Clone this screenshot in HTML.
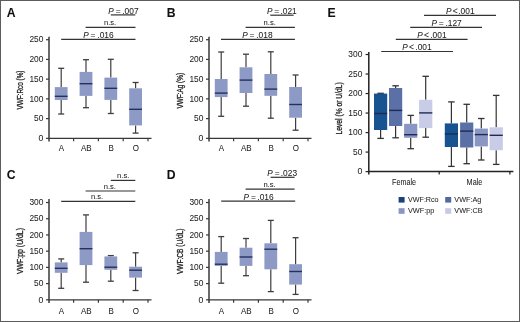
<!DOCTYPE html>
<html><head><meta charset="utf-8"><style>
html,body{margin:0;padding:0;background:#fff;}
body{width:520px;height:322px;overflow:hidden;}
.f{position:relative;width:520px;height:322px;box-sizing:border-box;border:1px solid #5c5c5c;background:#fff;}
svg{position:absolute;left:-1px;top:-1px;will-change:transform;font-family:"Liberation Sans", sans-serif;}
</style></head><body><div class="f">
<svg width="520" height="322" viewBox="0 0 520 322">
<text x="6.8" y="16.8" font-size="12.2" text-anchor="start" font-weight="bold" fill="#111" stroke="#111" stroke-width="0.05">A</text>
<line x1="49" y1="36.8" x2="49" y2="141.6" stroke="#383838" stroke-width="1.5"/>
<line x1="46" y1="138.35" x2="49" y2="138.35" stroke="#383838" stroke-width="1.2"/>
<text x="43.4" y="141.05" font-size="8.7" text-anchor="end" font-weight="normal" fill="#222" stroke="#222" stroke-width="0.05">0</text>
<line x1="46" y1="118.62" x2="49" y2="118.62" stroke="#383838" stroke-width="1.2"/>
<text x="43.4" y="121.32" font-size="8.7" text-anchor="end" font-weight="normal" fill="#222" stroke="#222" stroke-width="0.05" textLength="9.3" lengthAdjust="spacingAndGlyphs">50</text>
<line x1="46" y1="98.89" x2="49" y2="98.89" stroke="#383838" stroke-width="1.2"/>
<text x="43.4" y="101.59" font-size="8.7" text-anchor="end" font-weight="normal" fill="#222" stroke="#222" stroke-width="0.05" textLength="13.95" lengthAdjust="spacingAndGlyphs">100</text>
<line x1="46" y1="79.16" x2="49" y2="79.16" stroke="#383838" stroke-width="1.2"/>
<text x="43.4" y="81.86" font-size="8.7" text-anchor="end" font-weight="normal" fill="#222" stroke="#222" stroke-width="0.05" textLength="13.95" lengthAdjust="spacingAndGlyphs">150</text>
<line x1="46" y1="59.43" x2="49" y2="59.43" stroke="#383838" stroke-width="1.2"/>
<text x="43.4" y="62.13" font-size="8.7" text-anchor="end" font-weight="normal" fill="#222" stroke="#222" stroke-width="0.05" textLength="13.95" lengthAdjust="spacingAndGlyphs">200</text>
<line x1="46" y1="39.7" x2="49" y2="39.7" stroke="#383838" stroke-width="1.2"/>
<text x="43.4" y="42.4" font-size="8.7" text-anchor="end" font-weight="normal" fill="#222" stroke="#222" stroke-width="0.05" textLength="13.95" lengthAdjust="spacingAndGlyphs">250</text>
<line x1="49" y1="138.35" x2="151.5" y2="138.35" stroke="#383838" stroke-width="1.3"/>
<line x1="73.6" y1="138.35" x2="73.6" y2="141.35" stroke="#383838" stroke-width="1.2"/>
<line x1="98.4" y1="138.35" x2="98.4" y2="141.35" stroke="#383838" stroke-width="1.2"/>
<line x1="123.2" y1="138.35" x2="123.2" y2="141.35" stroke="#383838" stroke-width="1.2"/>
<line x1="148" y1="138.35" x2="148" y2="141.35" stroke="#383838" stroke-width="1.2"/>
<text x="61.5" y="151.4" font-size="8.6" text-anchor="middle" font-weight="normal" fill="#222" stroke="#222" stroke-width="0.05" textLength="5.33" lengthAdjust="spacingAndGlyphs">A</text>
<text x="86.3" y="151.4" font-size="8.6" text-anchor="middle" font-weight="normal" fill="#222" stroke="#222" stroke-width="0.05" textLength="10.67" lengthAdjust="spacingAndGlyphs">AB</text>
<text x="111.1" y="151.4" font-size="8.6" text-anchor="middle" font-weight="normal" fill="#222" stroke="#222" stroke-width="0.05" textLength="5.33" lengthAdjust="spacingAndGlyphs">B</text>
<text x="135.9" y="151.4" font-size="8.6" text-anchor="middle" font-weight="normal" fill="#222" stroke="#222" stroke-width="0.05" textLength="6.22" lengthAdjust="spacingAndGlyphs">O</text>
<line x1="61.2" y1="68.3" x2="61.2" y2="87.1" stroke="#3e3e3e" stroke-width="1.2"/>
<line x1="61.2" y1="100.0" x2="61.2" y2="114.0" stroke="#3e3e3e" stroke-width="1.2"/>
<line x1="58.2" y1="68.3" x2="64.2" y2="68.3" stroke="#3e3e3e" stroke-width="1.3"/>
<line x1="58.2" y1="114.0" x2="64.2" y2="114.0" stroke="#3e3e3e" stroke-width="1.3"/>
<rect x="54.8" y="87.1" width="12.8" height="12.9" fill="#8e9ac6"/>
<line x1="54.8" y1="96.3" x2="67.6" y2="96.3" stroke="#26305e" stroke-width="1.4"/>
<line x1="86" y1="59.7" x2="86" y2="71.9" stroke="#3e3e3e" stroke-width="1.2"/>
<line x1="86" y1="95.9" x2="86" y2="107.7" stroke="#3e3e3e" stroke-width="1.2"/>
<line x1="83.0" y1="59.7" x2="89.0" y2="59.7" stroke="#3e3e3e" stroke-width="1.3"/>
<line x1="83.0" y1="107.7" x2="89.0" y2="107.7" stroke="#3e3e3e" stroke-width="1.3"/>
<rect x="79.6" y="71.9" width="12.8" height="24.0" fill="#8e9ac6"/>
<line x1="79.6" y1="83.7" x2="92.4" y2="83.7" stroke="#26305e" stroke-width="1.4"/>
<line x1="110.8" y1="59.3" x2="110.8" y2="77.6" stroke="#3e3e3e" stroke-width="1.2"/>
<line x1="110.8" y1="99.9" x2="110.8" y2="113.5" stroke="#3e3e3e" stroke-width="1.2"/>
<line x1="107.8" y1="59.3" x2="113.8" y2="59.3" stroke="#3e3e3e" stroke-width="1.3"/>
<line x1="107.8" y1="113.5" x2="113.8" y2="113.5" stroke="#3e3e3e" stroke-width="1.3"/>
<rect x="104.4" y="77.6" width="12.8" height="22.3" fill="#8e9ac6"/>
<line x1="104.4" y1="88.3" x2="117.2" y2="88.3" stroke="#26305e" stroke-width="1.4"/>
<line x1="135.6" y1="82.5" x2="135.6" y2="88.3" stroke="#3e3e3e" stroke-width="1.2"/>
<line x1="135.6" y1="125.4" x2="135.6" y2="133.1" stroke="#3e3e3e" stroke-width="1.2"/>
<line x1="132.6" y1="82.5" x2="138.6" y2="82.5" stroke="#3e3e3e" stroke-width="1.3"/>
<line x1="132.6" y1="133.1" x2="138.6" y2="133.1" stroke="#3e3e3e" stroke-width="1.3"/>
<rect x="129.2" y="88.3" width="12.8" height="37.1" fill="#8e9ac6"/>
<line x1="129.2" y1="109.3" x2="142.0" y2="109.3" stroke="#26305e" stroke-width="1.4"/>
<line x1="110.8" y1="14.9" x2="135.3" y2="14.9" stroke="#333" stroke-width="1.2"/>
<text x="108.30" y="13.8" font-size="8.2" font-style="italic" fill="#222" stroke="#222" stroke-width="0.05">P</text>
<text x="115.70" y="13.8" font-size="8.4" fill="#222" stroke="#222" stroke-width="0.05">=</text>
<text x="122.24" y="13.8" font-size="8.4" fill="#222" stroke="#222" stroke-width="0.05">.007</text>
<line x1="85.6" y1="27.4" x2="135.5" y2="27.4" stroke="#333" stroke-width="1.2"/>
<text x="110.1" y="25.4" font-size="7.6" text-anchor="middle" font-weight="normal" fill="#222" stroke="#222" stroke-width="0.05">n.s.</text>
<line x1="61.2" y1="39.4" x2="135.5" y2="39.4" stroke="#333" stroke-width="1.2"/>
<text x="83.20" y="37.5" font-size="8.2" font-style="italic" fill="#222" stroke="#222" stroke-width="0.05">P</text>
<text x="90.60" y="37.5" font-size="8.4" fill="#222" stroke="#222" stroke-width="0.05">=</text>
<text x="97.34" y="37.5" font-size="8.4" fill="#222" stroke="#222" stroke-width="0.05">.016</text>
<text x="0" y="0" font-size="8.9" font-weight="normal" text-anchor="middle" fill="#222" stroke="#222" stroke-width="0.3" textLength="39" lengthAdjust="spacingAndGlyphs" transform="translate(22.7,90) rotate(-90)">VWF:Rco (%)</text>
<text x="166.8" y="16.8" font-size="12.2" text-anchor="start" font-weight="bold" fill="#111" stroke="#111" stroke-width="0.05">B</text>
<line x1="209" y1="36.8" x2="209" y2="141.6" stroke="#383838" stroke-width="1.5"/>
<line x1="206" y1="138.35" x2="209" y2="138.35" stroke="#383838" stroke-width="1.2"/>
<text x="203.4" y="141.05" font-size="8.7" text-anchor="end" font-weight="normal" fill="#222" stroke="#222" stroke-width="0.05">0</text>
<line x1="206" y1="118.62" x2="209" y2="118.62" stroke="#383838" stroke-width="1.2"/>
<text x="203.4" y="121.32" font-size="8.7" text-anchor="end" font-weight="normal" fill="#222" stroke="#222" stroke-width="0.05" textLength="9.3" lengthAdjust="spacingAndGlyphs">50</text>
<line x1="206" y1="98.89" x2="209" y2="98.89" stroke="#383838" stroke-width="1.2"/>
<text x="203.4" y="101.59" font-size="8.7" text-anchor="end" font-weight="normal" fill="#222" stroke="#222" stroke-width="0.05" textLength="13.95" lengthAdjust="spacingAndGlyphs">100</text>
<line x1="206" y1="79.16" x2="209" y2="79.16" stroke="#383838" stroke-width="1.2"/>
<text x="203.4" y="81.86" font-size="8.7" text-anchor="end" font-weight="normal" fill="#222" stroke="#222" stroke-width="0.05" textLength="13.95" lengthAdjust="spacingAndGlyphs">150</text>
<line x1="206" y1="59.43" x2="209" y2="59.43" stroke="#383838" stroke-width="1.2"/>
<text x="203.4" y="62.13" font-size="8.7" text-anchor="end" font-weight="normal" fill="#222" stroke="#222" stroke-width="0.05" textLength="13.95" lengthAdjust="spacingAndGlyphs">200</text>
<line x1="206" y1="39.7" x2="209" y2="39.7" stroke="#383838" stroke-width="1.2"/>
<text x="203.4" y="42.4" font-size="8.7" text-anchor="end" font-weight="normal" fill="#222" stroke="#222" stroke-width="0.05" textLength="13.95" lengthAdjust="spacingAndGlyphs">250</text>
<line x1="209" y1="138.35" x2="311.5" y2="138.35" stroke="#383838" stroke-width="1.3"/>
<line x1="233.6" y1="138.35" x2="233.6" y2="141.35" stroke="#383838" stroke-width="1.2"/>
<line x1="258.4" y1="138.35" x2="258.4" y2="141.35" stroke="#383838" stroke-width="1.2"/>
<line x1="283.2" y1="138.35" x2="283.2" y2="141.35" stroke="#383838" stroke-width="1.2"/>
<line x1="308" y1="138.35" x2="308" y2="141.35" stroke="#383838" stroke-width="1.2"/>
<text x="221.5" y="151.4" font-size="8.6" text-anchor="middle" font-weight="normal" fill="#222" stroke="#222" stroke-width="0.05" textLength="5.33" lengthAdjust="spacingAndGlyphs">A</text>
<text x="246.3" y="151.4" font-size="8.6" text-anchor="middle" font-weight="normal" fill="#222" stroke="#222" stroke-width="0.05" textLength="10.67" lengthAdjust="spacingAndGlyphs">AB</text>
<text x="271.1" y="151.4" font-size="8.6" text-anchor="middle" font-weight="normal" fill="#222" stroke="#222" stroke-width="0.05" textLength="5.33" lengthAdjust="spacingAndGlyphs">B</text>
<text x="295.9" y="151.4" font-size="8.6" text-anchor="middle" font-weight="normal" fill="#222" stroke="#222" stroke-width="0.05" textLength="6.22" lengthAdjust="spacingAndGlyphs">O</text>
<line x1="221.2" y1="52.0" x2="221.2" y2="79.0" stroke="#3e3e3e" stroke-width="1.2"/>
<line x1="221.2" y1="97.1" x2="221.2" y2="116.3" stroke="#3e3e3e" stroke-width="1.2"/>
<line x1="218.2" y1="52.0" x2="224.2" y2="52.0" stroke="#3e3e3e" stroke-width="1.3"/>
<line x1="218.2" y1="116.3" x2="224.2" y2="116.3" stroke="#3e3e3e" stroke-width="1.3"/>
<rect x="214.8" y="79.0" width="12.8" height="18.1" fill="#8e9ac6"/>
<line x1="214.8" y1="93.1" x2="227.6" y2="93.1" stroke="#26305e" stroke-width="1.4"/>
<line x1="246" y1="54.2" x2="246" y2="67.3" stroke="#3e3e3e" stroke-width="1.2"/>
<line x1="246" y1="93.0" x2="246" y2="106.2" stroke="#3e3e3e" stroke-width="1.2"/>
<line x1="243.0" y1="54.2" x2="249.0" y2="54.2" stroke="#3e3e3e" stroke-width="1.3"/>
<line x1="243.0" y1="106.2" x2="249.0" y2="106.2" stroke="#3e3e3e" stroke-width="1.3"/>
<rect x="239.6" y="67.3" width="12.8" height="25.7" fill="#8e9ac6"/>
<line x1="239.6" y1="80.1" x2="252.4" y2="80.1" stroke="#26305e" stroke-width="1.4"/>
<line x1="270.8" y1="51.8" x2="270.8" y2="74.0" stroke="#3e3e3e" stroke-width="1.2"/>
<line x1="270.8" y1="95.8" x2="270.8" y2="118.2" stroke="#3e3e3e" stroke-width="1.2"/>
<line x1="267.8" y1="51.8" x2="273.8" y2="51.8" stroke="#3e3e3e" stroke-width="1.3"/>
<line x1="267.8" y1="118.2" x2="273.8" y2="118.2" stroke="#3e3e3e" stroke-width="1.3"/>
<rect x="264.4" y="74.0" width="12.8" height="21.8" fill="#8e9ac6"/>
<line x1="264.4" y1="89.1" x2="277.2" y2="89.1" stroke="#26305e" stroke-width="1.4"/>
<line x1="295.6" y1="75.0" x2="295.6" y2="87.0" stroke="#3e3e3e" stroke-width="1.2"/>
<line x1="295.6" y1="117.7" x2="295.6" y2="130.2" stroke="#3e3e3e" stroke-width="1.2"/>
<line x1="292.6" y1="75.0" x2="298.6" y2="75.0" stroke="#3e3e3e" stroke-width="1.3"/>
<line x1="292.6" y1="130.2" x2="298.6" y2="130.2" stroke="#3e3e3e" stroke-width="1.3"/>
<rect x="289.2" y="87.0" width="12.8" height="30.7" fill="#8e9ac6"/>
<line x1="289.2" y1="104.5" x2="302.0" y2="104.5" stroke="#26305e" stroke-width="1.4"/>
<line x1="270.3" y1="15.2" x2="293.6" y2="15.2" stroke="#333" stroke-width="1.2"/>
<text x="266.90" y="13.8" font-size="8.2" font-style="italic" fill="#222" stroke="#222" stroke-width="0.05">P</text>
<text x="274.30" y="13.8" font-size="8.4" fill="#222" stroke="#222" stroke-width="0.05">=</text>
<text x="280.44" y="13.8" font-size="8.4" fill="#222" stroke="#222" stroke-width="0.05">.021</text>
<line x1="245.6" y1="27.3" x2="294.9" y2="27.3" stroke="#333" stroke-width="1.2"/>
<text x="269.7" y="25.2" font-size="7.6" text-anchor="middle" font-weight="normal" fill="#222" stroke="#222" stroke-width="0.05">n.s.</text>
<line x1="221.0" y1="39.4" x2="294.9" y2="39.4" stroke="#333" stroke-width="1.2"/>
<text x="242.20" y="37.6" font-size="8.2" font-style="italic" fill="#222" stroke="#222" stroke-width="0.05">P</text>
<text x="249.60" y="37.6" font-size="8.4" fill="#222" stroke="#222" stroke-width="0.05">=</text>
<text x="256.24" y="37.6" font-size="8.4" fill="#222" stroke="#222" stroke-width="0.05">.018</text>
<text x="0" y="0" font-size="8.9" font-weight="normal" text-anchor="middle" fill="#222" stroke="#222" stroke-width="0.3" textLength="35.4" lengthAdjust="spacingAndGlyphs" transform="translate(182.7,90.7) rotate(-90)">VWF:Ag (%)</text>
<text x="6.8" y="179.0" font-size="12.2" text-anchor="start" font-weight="bold" fill="#111" stroke="#111" stroke-width="0.05">C</text>
<line x1="49" y1="199.0" x2="49" y2="303.0" stroke="#383838" stroke-width="1.5"/>
<line x1="46" y1="299.8" x2="49" y2="299.8" stroke="#383838" stroke-width="1.2"/>
<text x="43.4" y="302.5" font-size="8.7" text-anchor="end" font-weight="normal" fill="#222" stroke="#222" stroke-width="0.05">0</text>
<line x1="46" y1="283.59" x2="49" y2="283.59" stroke="#383838" stroke-width="1.2"/>
<text x="43.4" y="286.29" font-size="8.7" text-anchor="end" font-weight="normal" fill="#222" stroke="#222" stroke-width="0.05" textLength="9.3" lengthAdjust="spacingAndGlyphs">50</text>
<line x1="46" y1="267.37" x2="49" y2="267.37" stroke="#383838" stroke-width="1.2"/>
<text x="43.4" y="270.07" font-size="8.7" text-anchor="end" font-weight="normal" fill="#222" stroke="#222" stroke-width="0.05" textLength="13.95" lengthAdjust="spacingAndGlyphs">100</text>
<line x1="46" y1="251.16" x2="49" y2="251.16" stroke="#383838" stroke-width="1.2"/>
<text x="43.4" y="253.86" font-size="8.7" text-anchor="end" font-weight="normal" fill="#222" stroke="#222" stroke-width="0.05" textLength="13.95" lengthAdjust="spacingAndGlyphs">150</text>
<line x1="46" y1="234.94" x2="49" y2="234.94" stroke="#383838" stroke-width="1.2"/>
<text x="43.4" y="237.64" font-size="8.7" text-anchor="end" font-weight="normal" fill="#222" stroke="#222" stroke-width="0.05" textLength="13.95" lengthAdjust="spacingAndGlyphs">200</text>
<line x1="46" y1="218.73" x2="49" y2="218.73" stroke="#383838" stroke-width="1.2"/>
<text x="43.4" y="221.43" font-size="8.7" text-anchor="end" font-weight="normal" fill="#222" stroke="#222" stroke-width="0.05" textLength="13.95" lengthAdjust="spacingAndGlyphs">250</text>
<line x1="46" y1="202.51" x2="49" y2="202.51" stroke="#383838" stroke-width="1.2"/>
<text x="43.4" y="205.21" font-size="8.7" text-anchor="end" font-weight="normal" fill="#222" stroke="#222" stroke-width="0.05" textLength="13.95" lengthAdjust="spacingAndGlyphs">300</text>
<line x1="49" y1="299.8" x2="151.5" y2="299.8" stroke="#383838" stroke-width="1.3"/>
<line x1="73.6" y1="299.8" x2="73.6" y2="302.8" stroke="#383838" stroke-width="1.2"/>
<line x1="98.4" y1="299.8" x2="98.4" y2="302.8" stroke="#383838" stroke-width="1.2"/>
<line x1="123.2" y1="299.8" x2="123.2" y2="302.8" stroke="#383838" stroke-width="1.2"/>
<line x1="148" y1="299.8" x2="148" y2="302.8" stroke="#383838" stroke-width="1.2"/>
<text x="61.5" y="313.7" font-size="8.6" text-anchor="middle" font-weight="normal" fill="#222" stroke="#222" stroke-width="0.05" textLength="5.33" lengthAdjust="spacingAndGlyphs">A</text>
<text x="86.3" y="313.7" font-size="8.6" text-anchor="middle" font-weight="normal" fill="#222" stroke="#222" stroke-width="0.05" textLength="10.67" lengthAdjust="spacingAndGlyphs">AB</text>
<text x="111.1" y="313.7" font-size="8.6" text-anchor="middle" font-weight="normal" fill="#222" stroke="#222" stroke-width="0.05" textLength="5.33" lengthAdjust="spacingAndGlyphs">B</text>
<text x="135.9" y="313.7" font-size="8.6" text-anchor="middle" font-weight="normal" fill="#222" stroke="#222" stroke-width="0.05" textLength="6.22" lengthAdjust="spacingAndGlyphs">O</text>
<line x1="61.2" y1="258.9" x2="61.2" y2="262.4" stroke="#3e3e3e" stroke-width="1.2"/>
<line x1="61.2" y1="272.8" x2="61.2" y2="288.3" stroke="#3e3e3e" stroke-width="1.2"/>
<line x1="58.2" y1="258.9" x2="64.2" y2="258.9" stroke="#3e3e3e" stroke-width="1.3"/>
<line x1="58.2" y1="288.3" x2="64.2" y2="288.3" stroke="#3e3e3e" stroke-width="1.3"/>
<rect x="54.8" y="262.4" width="12.8" height="10.4" fill="#8e9ac6"/>
<line x1="54.8" y1="268.3" x2="67.6" y2="268.3" stroke="#26305e" stroke-width="1.4"/>
<line x1="86" y1="214.9" x2="86" y2="231.9" stroke="#3e3e3e" stroke-width="1.2"/>
<line x1="86" y1="265.1" x2="86" y2="282.2" stroke="#3e3e3e" stroke-width="1.2"/>
<line x1="83.0" y1="214.9" x2="89.0" y2="214.9" stroke="#3e3e3e" stroke-width="1.3"/>
<line x1="83.0" y1="282.2" x2="89.0" y2="282.2" stroke="#3e3e3e" stroke-width="1.3"/>
<rect x="79.6" y="231.9" width="12.8" height="33.2" fill="#8e9ac6"/>
<line x1="79.6" y1="248.7" x2="92.4" y2="248.7" stroke="#26305e" stroke-width="1.4"/>
<line x1="110.8" y1="255.6" x2="110.8" y2="256.4" stroke="#3e3e3e" stroke-width="1.2"/>
<line x1="110.8" y1="269.8" x2="110.8" y2="281.2" stroke="#3e3e3e" stroke-width="1.2"/>
<line x1="107.8" y1="255.6" x2="113.8" y2="255.6" stroke="#3e3e3e" stroke-width="1.3"/>
<line x1="107.8" y1="281.2" x2="113.8" y2="281.2" stroke="#3e3e3e" stroke-width="1.3"/>
<rect x="104.4" y="256.4" width="12.8" height="13.4" fill="#8e9ac6"/>
<line x1="104.4" y1="267.2" x2="117.2" y2="267.2" stroke="#26305e" stroke-width="1.4"/>
<line x1="135.6" y1="252.8" x2="135.6" y2="266.7" stroke="#3e3e3e" stroke-width="1.2"/>
<line x1="135.6" y1="277.6" x2="135.6" y2="290.5" stroke="#3e3e3e" stroke-width="1.2"/>
<line x1="132.6" y1="252.8" x2="138.6" y2="252.8" stroke="#3e3e3e" stroke-width="1.3"/>
<line x1="132.6" y1="290.5" x2="138.6" y2="290.5" stroke="#3e3e3e" stroke-width="1.3"/>
<rect x="129.2" y="266.7" width="12.8" height="10.9" fill="#8e9ac6"/>
<line x1="129.2" y1="270.2" x2="142.0" y2="270.2" stroke="#26305e" stroke-width="1.4"/>
<line x1="110.8" y1="180.4" x2="135.3" y2="180.4" stroke="#333" stroke-width="1.2"/>
<text x="123.2" y="178.3" font-size="7.6" text-anchor="middle" font-weight="normal" fill="#222" stroke="#222" stroke-width="0.05">n.s.</text>
<line x1="85.6" y1="191.0" x2="135.3" y2="191.0" stroke="#333" stroke-width="1.2"/>
<text x="109.8" y="188.9" font-size="7.6" text-anchor="middle" font-weight="normal" fill="#222" stroke="#222" stroke-width="0.05">n.s.</text>
<line x1="61.2" y1="201.3" x2="135.3" y2="201.3" stroke="#333" stroke-width="1.2"/>
<text x="97.0" y="199.2" font-size="7.6" text-anchor="middle" font-weight="normal" fill="#222" stroke="#222" stroke-width="0.05">n.s.</text>
<text x="0" y="0" font-size="8.9" font-weight="normal" text-anchor="middle" fill="#222" stroke="#222" stroke-width="0.3" textLength="46" lengthAdjust="spacingAndGlyphs" transform="translate(22.7,251) rotate(-90)">VWF:pp (U/dL)</text>
<text x="166.8" y="179.0" font-size="12.2" text-anchor="start" font-weight="bold" fill="#111" stroke="#111" stroke-width="0.05">D</text>
<line x1="209" y1="199.0" x2="209" y2="303.0" stroke="#383838" stroke-width="1.5"/>
<line x1="206" y1="299.8" x2="209" y2="299.8" stroke="#383838" stroke-width="1.2"/>
<text x="203.4" y="302.5" font-size="8.7" text-anchor="end" font-weight="normal" fill="#222" stroke="#222" stroke-width="0.05">0</text>
<line x1="206" y1="283.59" x2="209" y2="283.59" stroke="#383838" stroke-width="1.2"/>
<text x="203.4" y="286.29" font-size="8.7" text-anchor="end" font-weight="normal" fill="#222" stroke="#222" stroke-width="0.05" textLength="9.3" lengthAdjust="spacingAndGlyphs">50</text>
<line x1="206" y1="267.37" x2="209" y2="267.37" stroke="#383838" stroke-width="1.2"/>
<text x="203.4" y="270.07" font-size="8.7" text-anchor="end" font-weight="normal" fill="#222" stroke="#222" stroke-width="0.05" textLength="13.95" lengthAdjust="spacingAndGlyphs">100</text>
<line x1="206" y1="251.16" x2="209" y2="251.16" stroke="#383838" stroke-width="1.2"/>
<text x="203.4" y="253.86" font-size="8.7" text-anchor="end" font-weight="normal" fill="#222" stroke="#222" stroke-width="0.05" textLength="13.95" lengthAdjust="spacingAndGlyphs">150</text>
<line x1="206" y1="234.94" x2="209" y2="234.94" stroke="#383838" stroke-width="1.2"/>
<text x="203.4" y="237.64" font-size="8.7" text-anchor="end" font-weight="normal" fill="#222" stroke="#222" stroke-width="0.05" textLength="13.95" lengthAdjust="spacingAndGlyphs">200</text>
<line x1="206" y1="218.73" x2="209" y2="218.73" stroke="#383838" stroke-width="1.2"/>
<text x="203.4" y="221.43" font-size="8.7" text-anchor="end" font-weight="normal" fill="#222" stroke="#222" stroke-width="0.05" textLength="13.95" lengthAdjust="spacingAndGlyphs">250</text>
<line x1="206" y1="202.51" x2="209" y2="202.51" stroke="#383838" stroke-width="1.2"/>
<text x="203.4" y="205.21" font-size="8.7" text-anchor="end" font-weight="normal" fill="#222" stroke="#222" stroke-width="0.05" textLength="13.95" lengthAdjust="spacingAndGlyphs">300</text>
<line x1="209" y1="299.8" x2="311.5" y2="299.8" stroke="#383838" stroke-width="1.3"/>
<line x1="233.6" y1="299.8" x2="233.6" y2="302.8" stroke="#383838" stroke-width="1.2"/>
<line x1="258.4" y1="299.8" x2="258.4" y2="302.8" stroke="#383838" stroke-width="1.2"/>
<line x1="283.2" y1="299.8" x2="283.2" y2="302.8" stroke="#383838" stroke-width="1.2"/>
<line x1="308" y1="299.8" x2="308" y2="302.8" stroke="#383838" stroke-width="1.2"/>
<text x="221.5" y="313.7" font-size="8.6" text-anchor="middle" font-weight="normal" fill="#222" stroke="#222" stroke-width="0.05" textLength="5.33" lengthAdjust="spacingAndGlyphs">A</text>
<text x="246.3" y="313.7" font-size="8.6" text-anchor="middle" font-weight="normal" fill="#222" stroke="#222" stroke-width="0.05" textLength="10.67" lengthAdjust="spacingAndGlyphs">AB</text>
<text x="271.1" y="313.7" font-size="8.6" text-anchor="middle" font-weight="normal" fill="#222" stroke="#222" stroke-width="0.05" textLength="5.33" lengthAdjust="spacingAndGlyphs">B</text>
<text x="295.9" y="313.7" font-size="8.6" text-anchor="middle" font-weight="normal" fill="#222" stroke="#222" stroke-width="0.05" textLength="6.22" lengthAdjust="spacingAndGlyphs">O</text>
<line x1="221.2" y1="236.6" x2="221.2" y2="251.9" stroke="#3e3e3e" stroke-width="1.2"/>
<line x1="221.2" y1="265.9" x2="221.2" y2="283.2" stroke="#3e3e3e" stroke-width="1.2"/>
<line x1="218.2" y1="236.6" x2="224.2" y2="236.6" stroke="#3e3e3e" stroke-width="1.3"/>
<line x1="218.2" y1="283.2" x2="224.2" y2="283.2" stroke="#3e3e3e" stroke-width="1.3"/>
<rect x="214.8" y="251.9" width="12.8" height="14" fill="#8e9ac6"/>
<line x1="214.8" y1="264.2" x2="227.6" y2="264.2" stroke="#26305e" stroke-width="1.4"/>
<line x1="246" y1="238.5" x2="246" y2="247.7" stroke="#3e3e3e" stroke-width="1.2"/>
<line x1="246" y1="265.9" x2="246" y2="275.7" stroke="#3e3e3e" stroke-width="1.2"/>
<line x1="243.0" y1="238.5" x2="249.0" y2="238.5" stroke="#3e3e3e" stroke-width="1.3"/>
<line x1="243.0" y1="275.7" x2="249.0" y2="275.7" stroke="#3e3e3e" stroke-width="1.3"/>
<rect x="239.6" y="247.7" width="12.8" height="18.2" fill="#8e9ac6"/>
<line x1="239.6" y1="257.0" x2="252.4" y2="257.0" stroke="#26305e" stroke-width="1.4"/>
<line x1="270.8" y1="220.4" x2="270.8" y2="243.3" stroke="#3e3e3e" stroke-width="1.2"/>
<line x1="270.8" y1="269.3" x2="270.8" y2="291.6" stroke="#3e3e3e" stroke-width="1.2"/>
<line x1="267.8" y1="220.4" x2="273.8" y2="220.4" stroke="#3e3e3e" stroke-width="1.3"/>
<line x1="267.8" y1="291.6" x2="273.8" y2="291.6" stroke="#3e3e3e" stroke-width="1.3"/>
<rect x="264.4" y="243.3" width="12.8" height="26.0" fill="#8e9ac6"/>
<line x1="264.4" y1="249.2" x2="277.2" y2="249.2" stroke="#26305e" stroke-width="1.4"/>
<line x1="295.6" y1="237.7" x2="295.6" y2="264.2" stroke="#3e3e3e" stroke-width="1.2"/>
<line x1="295.6" y1="284.6" x2="295.6" y2="294.4" stroke="#3e3e3e" stroke-width="1.2"/>
<line x1="292.6" y1="237.7" x2="298.6" y2="237.7" stroke="#3e3e3e" stroke-width="1.3"/>
<line x1="292.6" y1="294.4" x2="298.6" y2="294.4" stroke="#3e3e3e" stroke-width="1.3"/>
<rect x="289.2" y="264.2" width="12.8" height="20.4" fill="#8e9ac6"/>
<line x1="289.2" y1="271.5" x2="302.0" y2="271.5" stroke="#26305e" stroke-width="1.4"/>
<line x1="270.6" y1="177.3" x2="294.6" y2="177.3" stroke="#333" stroke-width="1.2"/>
<text x="267.30" y="175.7" font-size="8.2" font-style="italic" fill="#222" stroke="#222" stroke-width="0.05">P</text>
<text x="274.70" y="175.7" font-size="8.4" fill="#222" stroke="#222" stroke-width="0.05">=</text>
<text x="280.74" y="175.7" font-size="8.4" fill="#222" stroke="#222" stroke-width="0.05">.023</text>
<line x1="245.6" y1="189.2" x2="294.6" y2="189.2" stroke="#333" stroke-width="1.2"/>
<text x="269.5" y="187.4" font-size="7.6" text-anchor="middle" font-weight="normal" fill="#222" stroke="#222" stroke-width="0.05">n.s.</text>
<line x1="221.2" y1="201.2" x2="295.2" y2="201.2" stroke="#333" stroke-width="1.2"/>
<text x="243.60" y="199.5" font-size="8.2" font-style="italic" fill="#222" stroke="#222" stroke-width="0.05">P</text>
<text x="251.00" y="199.5" font-size="8.4" fill="#222" stroke="#222" stroke-width="0.05">=</text>
<text x="257.34" y="199.5" font-size="8.4" fill="#222" stroke="#222" stroke-width="0.05">.016</text>
<text x="0" y="0" font-size="8.9" font-weight="normal" text-anchor="middle" fill="#222" stroke="#222" stroke-width="0.3" textLength="45.6" lengthAdjust="spacingAndGlyphs" transform="translate(182.7,251.3) rotate(-90)">VWF:CB (U/dL)</text>
<text x="327.5" y="16.6" font-size="12.2" text-anchor="start" font-weight="bold" fill="#111" stroke="#111" stroke-width="0.05">E</text>
<line x1="368.8" y1="52.0" x2="368.8" y2="174.6" stroke="#222" stroke-width="1.5"/>
<line x1="365.6" y1="171.6" x2="368.8" y2="171.6" stroke="#222" stroke-width="1.2"/>
<text x="362.3" y="174.3" font-size="8.7" text-anchor="end" font-weight="normal" fill="#222" stroke="#222" stroke-width="0.05">0</text>
<line x1="365.6" y1="152.08" x2="368.8" y2="152.08" stroke="#222" stroke-width="1.2"/>
<text x="362.3" y="154.78" font-size="8.7" text-anchor="end" font-weight="normal" fill="#222" stroke="#222" stroke-width="0.05" textLength="9.3" lengthAdjust="spacingAndGlyphs">50</text>
<line x1="365.6" y1="132.57" x2="368.8" y2="132.57" stroke="#222" stroke-width="1.2"/>
<text x="362.3" y="135.27" font-size="8.7" text-anchor="end" font-weight="normal" fill="#222" stroke="#222" stroke-width="0.05" textLength="13.95" lengthAdjust="spacingAndGlyphs">100</text>
<line x1="365.6" y1="113.06" x2="368.8" y2="113.06" stroke="#222" stroke-width="1.2"/>
<text x="362.3" y="115.76" font-size="8.7" text-anchor="end" font-weight="normal" fill="#222" stroke="#222" stroke-width="0.05" textLength="13.95" lengthAdjust="spacingAndGlyphs">150</text>
<line x1="365.6" y1="93.54" x2="368.8" y2="93.54" stroke="#222" stroke-width="1.2"/>
<text x="362.3" y="96.24" font-size="8.7" text-anchor="end" font-weight="normal" fill="#222" stroke="#222" stroke-width="0.05" textLength="13.95" lengthAdjust="spacingAndGlyphs">200</text>
<line x1="365.6" y1="74.03" x2="368.8" y2="74.03" stroke="#222" stroke-width="1.2"/>
<text x="362.3" y="76.73" font-size="8.7" text-anchor="end" font-weight="normal" fill="#222" stroke="#222" stroke-width="0.05" textLength="13.95" lengthAdjust="spacingAndGlyphs">250</text>
<line x1="365.6" y1="54.51" x2="368.8" y2="54.51" stroke="#222" stroke-width="1.2"/>
<text x="362.3" y="57.21" font-size="8.7" text-anchor="end" font-weight="normal" fill="#222" stroke="#222" stroke-width="0.05" textLength="13.95" lengthAdjust="spacingAndGlyphs">300</text>
<line x1="368.8" y1="171.6" x2="513.4" y2="171.6" stroke="#222" stroke-width="1.5"/>
<line x1="439.2" y1="171.6" x2="439.2" y2="174.6" stroke="#222" stroke-width="1.2"/>
<line x1="509.9" y1="171.6" x2="509.9" y2="174.6" stroke="#222" stroke-width="1.2"/>
<text x="404" y="184.7" font-size="8.2" text-anchor="middle" font-weight="normal" fill="#222" stroke="#222" stroke-width="0.05" textLength="24.0" lengthAdjust="spacingAndGlyphs">Female</text>
<text x="474.5" y="184.5" font-size="8.2" text-anchor="middle" font-weight="normal" fill="#222" stroke="#222" stroke-width="0.05" textLength="15.8" lengthAdjust="spacingAndGlyphs">Male</text>
<line x1="380.6" y1="93.3" x2="380.6" y2="93.6" stroke="#333" stroke-width="1.2"/>
<line x1="380.6" y1="130.0" x2="380.6" y2="138.4" stroke="#333" stroke-width="1.2"/>
<line x1="377.35" y1="93.3" x2="383.85" y2="93.3" stroke="#333" stroke-width="1.3"/>
<line x1="377.35" y1="138.4" x2="383.85" y2="138.4" stroke="#333" stroke-width="1.3"/>
<rect x="374.0" y="93.6" width="13.2" height="36.4" fill="#175291"/>
<line x1="374.0" y1="113.5" x2="387.2" y2="113.5" stroke="#1f2b55" stroke-width="1.4"/>
<line x1="395.6" y1="85.8" x2="395.6" y2="88.0" stroke="#333" stroke-width="1.2"/>
<line x1="395.6" y1="126.0" x2="395.6" y2="137.8" stroke="#333" stroke-width="1.2"/>
<line x1="392.35" y1="85.8" x2="398.85" y2="85.8" stroke="#333" stroke-width="1.3"/>
<line x1="392.35" y1="137.8" x2="398.85" y2="137.8" stroke="#333" stroke-width="1.3"/>
<rect x="389.0" y="88.0" width="13.2" height="38.0" fill="#5a70a7"/>
<line x1="389.0" y1="110.4" x2="402.2" y2="110.4" stroke="#1f2b55" stroke-width="1.4"/>
<line x1="410.7" y1="115.4" x2="410.7" y2="123.8" stroke="#333" stroke-width="1.2"/>
<line x1="410.7" y1="137.8" x2="410.7" y2="148.7" stroke="#333" stroke-width="1.2"/>
<line x1="407.45" y1="115.4" x2="413.95" y2="115.4" stroke="#333" stroke-width="1.3"/>
<line x1="407.45" y1="148.7" x2="413.95" y2="148.7" stroke="#333" stroke-width="1.3"/>
<rect x="404.1" y="123.8" width="13.2" height="14" fill="#8a97c5"/>
<line x1="404.1" y1="134.7" x2="417.3" y2="134.7" stroke="#1f2b55" stroke-width="1.4"/>
<line x1="425.7" y1="76.3" x2="425.7" y2="99.8" stroke="#333" stroke-width="1.2"/>
<line x1="425.7" y1="128.1" x2="425.7" y2="137.2" stroke="#333" stroke-width="1.2"/>
<line x1="422.45" y1="76.3" x2="428.95" y2="76.3" stroke="#333" stroke-width="1.3"/>
<line x1="422.45" y1="137.2" x2="428.95" y2="137.2" stroke="#333" stroke-width="1.3"/>
<rect x="419.1" y="99.8" width="13.2" height="28.3" fill="#c8cce6"/>
<line x1="419.1" y1="112.9" x2="432.3" y2="112.9" stroke="#1f2b55" stroke-width="1.4"/>
<line x1="451.4" y1="101.9" x2="451.4" y2="123.4" stroke="#333" stroke-width="1.2"/>
<line x1="451.4" y1="147.0" x2="451.4" y2="166.4" stroke="#333" stroke-width="1.2"/>
<line x1="448.15" y1="101.9" x2="454.65" y2="101.9" stroke="#333" stroke-width="1.3"/>
<line x1="448.15" y1="166.4" x2="454.65" y2="166.4" stroke="#333" stroke-width="1.3"/>
<rect x="444.8" y="123.4" width="13.2" height="23.6" fill="#175291"/>
<line x1="444.8" y1="133.9" x2="458.0" y2="133.9" stroke="#1f2b55" stroke-width="1.4"/>
<line x1="466.7" y1="104.3" x2="466.7" y2="122.5" stroke="#333" stroke-width="1.2"/>
<line x1="466.7" y1="147.5" x2="466.7" y2="163.7" stroke="#333" stroke-width="1.2"/>
<line x1="463.45" y1="104.3" x2="469.95" y2="104.3" stroke="#333" stroke-width="1.3"/>
<line x1="463.45" y1="163.7" x2="469.95" y2="163.7" stroke="#333" stroke-width="1.3"/>
<rect x="460.1" y="122.5" width="13.2" height="25.0" fill="#5a70a7"/>
<line x1="460.1" y1="131.1" x2="473.3" y2="131.1" stroke="#1f2b55" stroke-width="1.4"/>
<line x1="481.3" y1="118.5" x2="481.3" y2="128.6" stroke="#333" stroke-width="1.2"/>
<line x1="481.3" y1="146.4" x2="481.3" y2="160.0" stroke="#333" stroke-width="1.2"/>
<line x1="478.05" y1="118.5" x2="484.55" y2="118.5" stroke="#333" stroke-width="1.3"/>
<line x1="478.05" y1="160.0" x2="484.55" y2="160.0" stroke="#333" stroke-width="1.3"/>
<rect x="474.7" y="128.6" width="13.2" height="17.8" fill="#8a97c5"/>
<line x1="474.7" y1="134.6" x2="487.9" y2="134.6" stroke="#1f2b55" stroke-width="1.4"/>
<line x1="496.2" y1="95.4" x2="496.2" y2="127.3" stroke="#333" stroke-width="1.2"/>
<line x1="496.2" y1="150.2" x2="496.2" y2="164.4" stroke="#333" stroke-width="1.2"/>
<line x1="492.95" y1="95.4" x2="499.45" y2="95.4" stroke="#333" stroke-width="1.3"/>
<line x1="492.95" y1="164.4" x2="499.45" y2="164.4" stroke="#333" stroke-width="1.3"/>
<rect x="489.6" y="127.3" width="13.2" height="22.9" fill="#c8cce6"/>
<line x1="489.6" y1="135.3" x2="502.8" y2="135.3" stroke="#1f2b55" stroke-width="1.4"/>
<line x1="381.2" y1="51.5" x2="453.0" y2="51.5" stroke="#333" stroke-width="1.2"/>
<text x="402.30" y="49.7" font-size="8.2" font-style="italic" fill="#222" stroke="#222" stroke-width="0.05">P</text>
<text x="409.10" y="49.7" font-size="8.4" fill="#222" stroke="#222" stroke-width="0.05">&lt;</text>
<text x="415.34" y="49.7" font-size="8.4" fill="#222" stroke="#222" stroke-width="0.05">.001</text>
<line x1="395.8" y1="39.4" x2="467.6" y2="39.4" stroke="#333" stroke-width="1.2"/>
<text x="417.20" y="37.7" font-size="8.2" font-style="italic" fill="#222" stroke="#222" stroke-width="0.05">P</text>
<text x="424.00" y="37.7" font-size="8.4" fill="#222" stroke="#222" stroke-width="0.05">&lt;</text>
<text x="430.24" y="37.7" font-size="8.4" fill="#222" stroke="#222" stroke-width="0.05">.001</text>
<line x1="410.2" y1="27.4" x2="482.0" y2="27.4" stroke="#333" stroke-width="1.2"/>
<text x="431.40" y="25.7" font-size="8.2" font-style="italic" fill="#222" stroke="#222" stroke-width="0.05">P</text>
<text x="438.80" y="25.7" font-size="8.4" fill="#222" stroke="#222" stroke-width="0.05">=</text>
<text x="445.43" y="25.7" font-size="8.4" fill="#222" stroke="#222" stroke-width="0.05">.127</text>
<line x1="424.0" y1="15.3" x2="496.0" y2="15.3" stroke="#333" stroke-width="1.2"/>
<text x="445.90" y="13.7" font-size="8.2" font-style="italic" fill="#222" stroke="#222" stroke-width="0.05">P</text>
<text x="452.70" y="13.7" font-size="8.4" fill="#222" stroke="#222" stroke-width="0.05">&lt;</text>
<text x="458.24" y="13.7" font-size="8.4" fill="#222" stroke="#222" stroke-width="0.05">.001</text>
<rect x="398.6" y="197.0" width="6.0" height="5.6" fill="#1a4179"/>
<text x="408.0" y="202.2" font-size="7.4" text-anchor="start" font-weight="normal" fill="#222" stroke="#222" stroke-width="0.05" textLength="30.6" lengthAdjust="spacingAndGlyphs">VWF:Rco</text>
<rect x="445.2" y="197.0" width="6.0" height="5.6" fill="#52689f"/>
<text x="454.3" y="202.2" font-size="7.4" text-anchor="start" font-weight="normal" fill="#222" stroke="#222" stroke-width="0.05" textLength="27" lengthAdjust="spacingAndGlyphs">VWF:Ag</text>
<rect x="398.6" y="208.2" width="6.0" height="5.6" fill="#8a95c3"/>
<text x="408.0" y="213.4" font-size="7.4" text-anchor="start" font-weight="normal" fill="#222" stroke="#222" stroke-width="0.05" textLength="26.4" lengthAdjust="spacingAndGlyphs">VWF:pp</text>
<rect x="445.2" y="208.2" width="6.0" height="5.6" fill="#c6c9e3"/>
<text x="454.3" y="213.4" font-size="7.4" text-anchor="start" font-weight="normal" fill="#222" stroke="#222" stroke-width="0.05" textLength="28.2" lengthAdjust="spacingAndGlyphs">VWF:CB</text>
<text x="0" y="0" font-size="8.38" font-weight="normal" text-anchor="middle" fill="#222" stroke="#222" stroke-width="0.3" textLength="52.2" lengthAdjust="spacingAndGlyphs" transform="translate(342.2,108.4) rotate(-90)">Level (% or U/dL)</text>
</svg></div></body></html>
